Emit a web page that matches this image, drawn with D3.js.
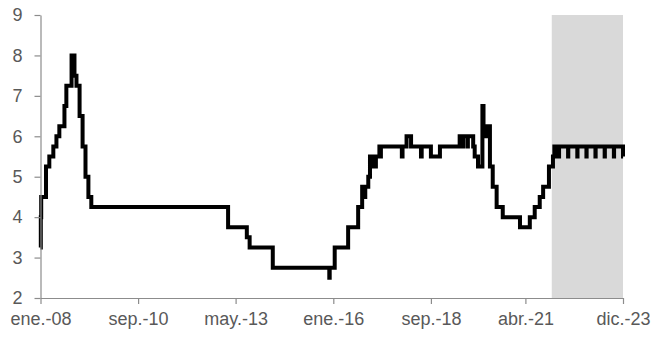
<!DOCTYPE html>
<html>
<head>
<meta charset="utf-8">
<script src="https://cdn.jsdelivr.net/npm/d3@7/dist/d3.min.js"></script>
<style>
  html, body { margin: 0; padding: 0; background: #fff; }
  svg text { font-family: "Liberation Sans", Arial, sans-serif; fill: #595959; }
</style>
</head>
<body>
<svg id="chart" width="653" height="341"></svg>
<script>
// Policy rate (%), step series: each value holds from its date until the next change
const changeDates = [
  "2008-01-01","2008-01-04","2008-01-08","2008-02-25","2008-03-29","2008-05-08",
  "2008-06-08","2008-07-07","2008-08-27","2008-09-15","2008-11-06","2008-11-20",
  "2008-11-24","2008-12-05","2008-12-25","2009-01-25","2009-02-24","2009-03-25",
  "2009-04-23","2009-05-22","2013-02-15","2013-08-21","2013-09-18","2014-05-07",
  "2015-11-22","2015-11-26","2016-01-15","2016-05-28","2016-09-05","2016-10-15",
  "2016-11-05","2016-11-15","2016-12-15","2017-01-01","2017-01-15","2017-02-01",
  "2017-02-15","2017-03-01","2017-04-05","2017-04-15","2017-04-20","2017-11-15",
  "2017-11-22","2018-01-01","2018-02-15","2018-05-25","2018-06-01","2018-09-01",
  "2018-11-30","2019-06-15","2019-07-15","2019-07-20","2019-09-01","2019-09-05",
  "2019-10-28","2019-11-12","2019-12-15","2020-01-28","2020-02-08","2020-03-01",
  "2020-03-10","2020-04-12","2020-05-10","2020-06-18","2020-08-18","2021-02-06",
  "2021-05-15","2021-07-03","2021-08-22","2021-09-25","2021-11-22","2022-01-01",
  "2022-01-15","2022-01-25","2022-02-05",
  "2022-03-01","2022-03-03","2022-06-01","2022-06-03","2022-09-01","2022-09-03",
  "2022-12-01","2022-12-03","2023-03-01","2023-03-03","2023-06-01","2023-06-03",
  "2023-09-01","2023-09-03","2023-12-01","2023-12-02"
];
const rates = [
  3.25,4.0,4.5,5.25,5.5,5.75,
  6.0,6.25,6.75,7.25,8.0,7.75,
  8.0,7.5,7.25,6.5,5.75,5.0,
  4.5,4.25,3.75,3.5,3.25,2.75,
  2.5,2.75,3.25,3.75,4.25,4.75,
  4.5,4.75,5.0,5.5,5.25,5.5,
  5.25,5.5,5.75,5.5,5.75,5.5,
  5.75,6.0,5.75,5.5,5.75,5.5,
  5.75,6.0,5.75,6.0,5.75,6.0,
  5.75,5.5,5.25,6.75,6.25,6.0,
  6.25,5.25,4.75,4.25,4.0,3.75,
  4.0,4.25,4.5,4.75,5.25,5.5,
  5.75,5.5,5.75,
  5.5,5.75,5.5,5.75,5.5,5.75,
  5.5,5.75,5.5,5.75,5.5,5.75,
  5.5,5.75,5.5,5.5
];

// Axis ticks
const xTickDates = ["2008-01-01","2010-09-01","2013-05-01","2016-01-01","2018-09-01","2021-04-01","2023-12-01"];
const xTickLabels = ["ene.-08","sep.-10","may.-13","ene.-16","sep.-18","abr.-21","dic.-23"];
const yTicks = [2, 3, 4, 5, 6, 7, 8, 9];

// Projection window (shaded)
const shadeStart = "2021-12-20";
const shadeEnd = "2023-12-01";

const parse = d3.utcParse("%Y-%m-%d");
const series = changeDates.map((d, i) => ({ date: parse(d), value: rates[i] }));

const svg = d3.select("#chart");
const margin = { left: 40.5, right: 30, top: 15, bottom: 43 };
const W = 653, H = 341;

const x = d3.scaleUtc()
  .domain([parse("2008-01-01"), parse("2023-12-01")])
  .range([margin.left, W - margin.right]);
const y = d3.scaleLinear()
  .domain([2, 9])
  .range([H - margin.bottom, margin.top]);

// shaded projection band
svg.append("rect")
  .attr("x", x(parse(shadeStart)))
  .attr("y", y(9))
  .attr("width", x(parse(shadeEnd)) - x(parse(shadeStart)))
  .attr("height", y(2) - y(9))
  .attr("fill", "#d9d9d9");

// rate line
const line = d3.line()
  .x(d => x(d.date))
  .y(d => y(d.value))
  .curve(d3.curveStepAfter);

svg.append("path")
  .datum(series)
  .attr("d", line)
  .attr("fill", "none")
  .attr("stroke", "#000")
  .attr("stroke-width", 4)
  .attr("stroke-linejoin", "miter");

// y axis
const yAxis = svg.append("g")
  .attr("transform", `translate(${margin.left},0)`)
  .call(d3.axisLeft(y).tickValues(yTicks).tickFormat(d3.format("d")).tickSize(6).tickSizeOuter(0).tickPadding(12));

// x axis
const xTicks = xTickDates.map(parse);
const xAxis = svg.append("g")
  .attr("transform", `translate(0,${y(2)})`)
  .call(d3.axisBottom(x).tickValues(xTicks)
    .tickFormat((d, i) => xTickLabels[i]).tickSize(6).tickSizeOuter(0).tickPadding(8));

[yAxis, xAxis].forEach(g => {
  g.select(".domain").attr("stroke", "#8c8c8c").attr("stroke-width", 1.2);
  g.selectAll(".tick line").attr("stroke", "#8c8c8c").attr("stroke-width", 1.2);
  g.selectAll(".tick text")
    .attr("fill", "#595959")
    .style("font-family", "'Liberation Sans', Arial, sans-serif")
    .style("font-size", "18px");
});
</script>
</body>
</html>
